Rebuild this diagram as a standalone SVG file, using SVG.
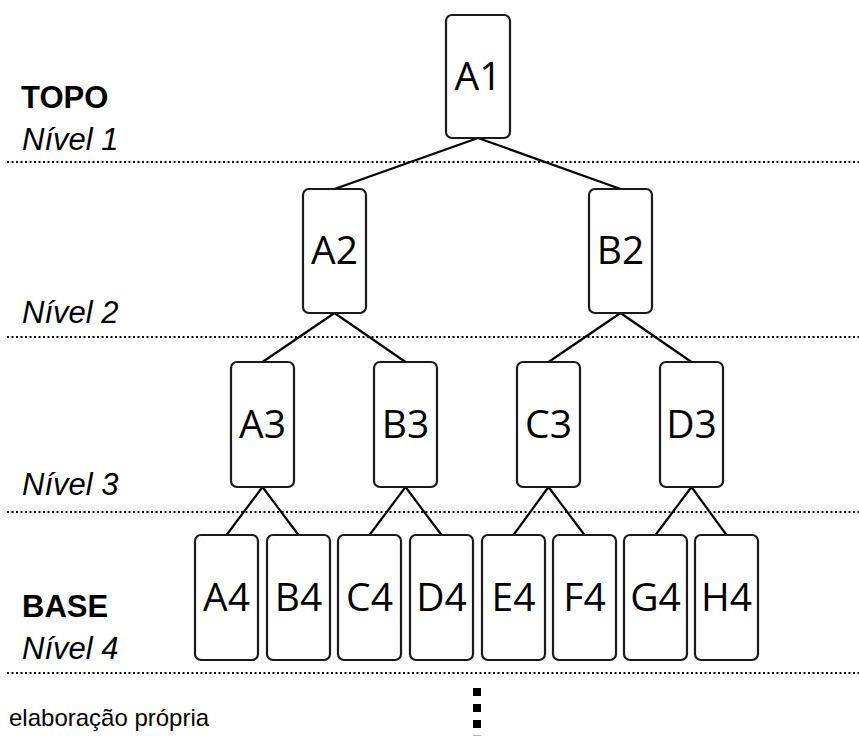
<svg xmlns="http://www.w3.org/2000/svg" width="859" height="736" viewBox="0 0 859 736">
  <style>
    .box { fill: #ffffff; stroke: #1a1a1a; stroke-width: 2.2; }
    .lbl { font-family: "Open Sans", "Noto Sans", sans-serif; font-size: 39px; fill: #000; text-anchor: middle; }
    .edge { stroke: #000; stroke-width: 2.2; fill: none; }
    .sep { stroke: #000; stroke-width: 2; stroke-dasharray: 2 2.5; fill: none; }
    .head { font-family: "Liberation Sans", Arial, sans-serif; font-size: 31px; font-weight: bold; fill: #000; }
    .lvl { font-family: "Liberation Sans", Arial, sans-serif; font-size: 31px; font-style: italic; fill: #000; }
    .src { font-family: "Liberation Sans", Arial, sans-serif; font-size: 24px; fill: #000; }
  </style>
  <rect width="859" height="736" fill="#ffffff"/>

  <!-- level separators -->
  <g id="separators">
    <line class="sep" x1="7" y1="162" x2="859" y2="162"/>
    <line class="sep" x1="7" y1="337" x2="859" y2="337"/>
    <line class="sep" x1="7" y1="512" x2="859" y2="512"/>
    <line class="sep" x1="7" y1="673" x2="859" y2="673"/>
  </g>

  <!-- level labels -->
  <g id="labels">
    <text class="head" x="21" y="108">TOPO</text>
    <text class="lvl" x="22" y="150">Nível 1</text>
    <text class="lvl" x="22" y="323">Nível 2</text>
    <text class="lvl" x="22" y="495">Nível 3</text>
    <text class="head" x="22" y="617">BASE</text>
    <text class="lvl" x="22" y="659">Nível 4</text>
    <text class="src" x="9" y="726">elaboração própria</text>
  </g>

  <!-- connectors -->
  <g id="connectors">
    <line class="edge" x1="478" y1="138" x2="334.5" y2="189"/>
    <line class="edge" x1="478" y1="138" x2="620.5" y2="189"/>
    <line class="edge" x1="334.5" y1="313" x2="262.5" y2="362"/>
    <line class="edge" x1="334.5" y1="313" x2="405.5" y2="362"/>
    <line class="edge" x1="620.5" y1="313" x2="548.5" y2="362"/>
    <line class="edge" x1="620.5" y1="313" x2="691.5" y2="362"/>
    <line class="edge" x1="262.5" y1="487" x2="226.5" y2="535"/>
    <line class="edge" x1="262.5" y1="487" x2="298.5" y2="535"/>
    <line class="edge" x1="405.5" y1="487" x2="369.5" y2="535"/>
    <line class="edge" x1="405.5" y1="487" x2="441.5" y2="535"/>
    <line class="edge" x1="548.5" y1="487" x2="513.5" y2="535"/>
    <line class="edge" x1="548.5" y1="487" x2="584.5" y2="535"/>
    <line class="edge" x1="691.5" y1="487" x2="655.5" y2="535"/>
    <line class="edge" x1="691.5" y1="487" x2="726.5" y2="535"/>
  </g>

  <!-- level 1 -->
  <g id="A1"><rect class="box" x="446" y="15" width="64" height="123" rx="6"/><text class="lbl" x="478" y="90">A1</text></g>

  <!-- level 2 -->
  <g id="A2"><rect class="box" x="303" y="189" width="63" height="124" rx="6"/><text class="lbl" x="334.5" y="264">A2</text></g>
  <g id="B2"><rect class="box" x="589" y="189" width="63" height="124" rx="6"/><text class="lbl" x="620.5" y="264">B2</text></g>

  <!-- level 3 -->
  <g id="A3"><rect class="box" x="231" y="362" width="63" height="125" rx="6"/><text class="lbl" x="262.5" y="438">A3</text></g>
  <g id="B3"><rect class="box" x="374" y="362" width="63" height="125" rx="6"/><text class="lbl" x="405.5" y="438">B3</text></g>
  <g id="C3"><rect class="box" x="517" y="362" width="63" height="125" rx="6"/><text class="lbl" x="548.5" y="438">C3</text></g>
  <g id="D3"><rect class="box" x="660" y="362" width="63" height="125" rx="6"/><text class="lbl" x="691.5" y="438">D3</text></g>

  <!-- level 4 -->
  <g id="A4"><rect class="box" x="195" y="535" width="63" height="125" rx="6"/><text class="lbl" x="226.5" y="611">A4</text></g>
  <g id="B4"><rect class="box" x="267" y="535" width="63" height="125" rx="6"/><text class="lbl" x="298.5" y="611">B4</text></g>
  <g id="C4"><rect class="box" x="338" y="535" width="63" height="125" rx="6"/><text class="lbl" x="369.5" y="611">C4</text></g>
  <g id="D4"><rect class="box" x="410" y="535" width="63" height="125" rx="6"/><text class="lbl" x="441.5" y="611">D4</text></g>
  <g id="E4"><rect class="box" x="482" y="535" width="63" height="125" rx="6"/><text class="lbl" x="513.5" y="611">E4</text></g>
  <g id="F4"><rect class="box" x="553" y="535" width="63" height="125" rx="6"/><text class="lbl" x="584.5" y="611">F4</text></g>
  <g id="G4"><rect class="box" x="624" y="535" width="63" height="125" rx="6"/><text class="lbl" x="655.5" y="611">G4</text></g>
  <g id="H4"><rect class="box" x="695" y="535" width="63" height="125" rx="6"/><text class="lbl" x="726.5" y="611">H4</text></g>

  <!-- continuation marks below the base -->
  <g id="continuation" fill="#000">
    <rect x="473" y="688" width="8" height="8"/>
    <rect x="473" y="704" width="8" height="8"/>
    <rect x="473" y="720" width="8" height="8"/>
    <rect x="473" y="735.3" width="8" height="8" fill="#999"/>
  </g>
</svg>
